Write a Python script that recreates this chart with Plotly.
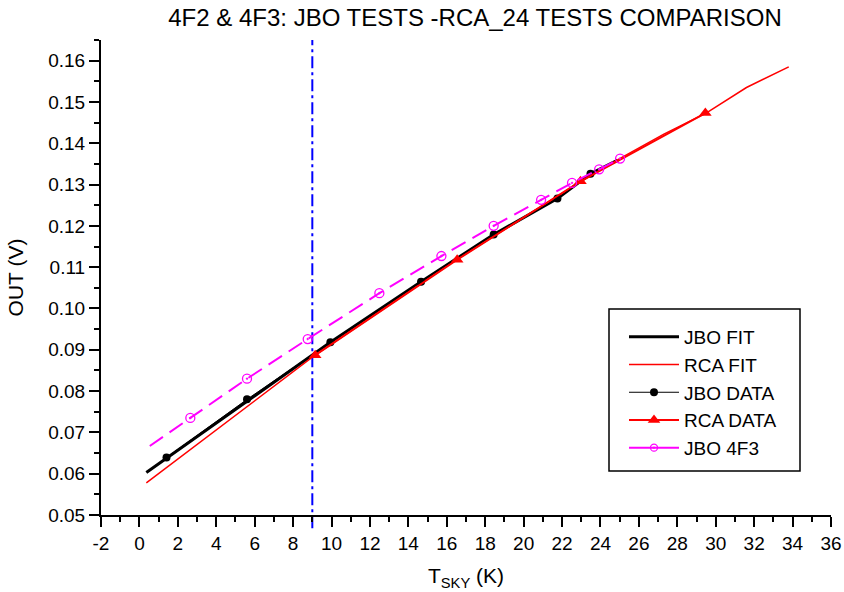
import plotly.graph_objects as go

# ---- data ----
jbo_fit_x = [0.36, 9.94, 14.66, 18.44, 21.76, 23.48, 24.9]
jbo_fit_y = [0.0603, 0.0918, 0.1065, 0.1179, 0.1266, 0.1326, 0.1359]

rca_fit_x = [0.36, 9.0, 16.5, 23.0, 25.0, 27.3, 29.5, 31.6, 33.8]
rca_fit_y = [0.0578, 0.0882, 0.1118, 0.1308, 0.1363, 0.1422, 0.1473, 0.1535, 0.1585]

jbo_data_x = [1.41, 5.6, 9.94, 14.66, 18.44, 21.76, 23.48]
jbo_data_y = [0.0639, 0.0780, 0.0918, 0.1065, 0.1179, 0.1266, 0.1326]

rca_data_x = [9.15, 16.54, 22.96, 29.46]
rca_data_y = [0.0887, 0.1118, 0.1308, 0.1473]

jbo4f3_x = [2.65, 5.6, 8.76, 12.49, 15.72, 18.44, 20.91, 22.52, 23.93, 25.02]
jbo4f3_y = [0.0735, 0.0830, 0.0926, 0.1037, 0.1127, 0.1200, 0.1263, 0.1304, 0.1337, 0.1363]
jbo4f3_line_start_x = [0.54]
jbo4f3_line_start_y = [0.0667]

vline_x = 9.0

x_range = [-2, 36]
y_range = [0.05, 0.165]
x_ticks = list(range(-2, 37, 2))
y_ticks = [0.05, 0.06, 0.07, 0.08, 0.09, 0.10, 0.11, 0.12, 0.13, 0.14, 0.15, 0.16]
y_ticklabels = ["%.2f" % v for v in y_ticks]

FONT = "Liberation Sans, Arial, sans-serif"

# plot area in pixels (figure coords)
L, R, T, B = 101, 831, 40, 515
W, H = 844, 592
PW, PH = R - L, B - T

def px_x(p):
    return (p - L) / PW

def px_y(p):
    return (B - p) / PH

fig = go.Figure()

fig.add_trace(go.Scatter(x=jbo_fit_x, y=jbo_fit_y, mode="lines", name="JBO FIT",
                         line=dict(color="black", width=3)))
fig.add_trace(go.Scatter(x=rca_fit_x, y=rca_fit_y, mode="lines", name="RCA FIT",
                         line=dict(color="#FF0000", width=1.5)))
fig.add_trace(go.Scatter(x=jbo_data_x, y=jbo_data_y, mode="lines+markers", name="JBO DATA",
                         line=dict(color="black", width=1),
                         marker=dict(symbol="circle", size=8, color="black")))
fig.add_trace(go.Scatter(x=rca_data_x, y=rca_data_y, mode="lines+markers", name="RCA DATA",
                         line=dict(color="#FF0000", width=2),
                         marker=dict(symbol="triangle-up", size=11, color="#FF0000")))
# JBO 4F3 dashed line and markers (plot), plus solid legend entry
fig.add_trace(go.Scatter(x=jbo4f3_line_start_x + jbo4f3_x, y=jbo4f3_line_start_y + jbo4f3_y,
                         mode="lines", showlegend=False, hoverinfo="skip",
                         line=dict(color="#FF00FF", width=2, dash="16px,8px")))
fig.add_trace(go.Scatter(x=jbo4f3_x, y=jbo4f3_y, mode="markers", showlegend=False,
                         marker=dict(symbol="circle-open-dot", size=9, color="#FF00FF",
                                     line=dict(width=1.3, color="#FF00FF"))))
fig.add_trace(go.Scatter(x=[None], y=[None], mode="lines+markers", name="JBO 4F3",
                         line=dict(color="#FF00FF", width=2),
                         marker=dict(symbol="circle-open-dot", size=7, color="#FF00FF",
                                     line=dict(width=1.3, color="#FF00FF"))))

# vertical reference line
fig.add_shape(type="line", xref="x", yref="y domain", x0=vline_x, x1=vline_x, y0=-0.028, y1=1.0,
              line=dict(color="#0000FF", width=2, dash="12px,4px,3px,4px"), layer="below")

# legend box
fig.add_shape(type="rect", xref="paper", yref="paper",
              x0=px_x(609), x1=px_x(800), y0=px_y(471), y1=px_y(309),
              line=dict(color="black", width=1.5), fillcolor="white", layer="below")

axis_common = dict(showgrid=False, zeroline=False, showline=True, linecolor="black", linewidth=2,
                   ticks="outside", ticklen=10, tickwidth=2, tickcolor="black", mirror=False,
                   automargin=False,
                   tickfont=dict(family=FONT, size=19, color="black"))

fig.update_xaxes(range=x_range, tickvals=x_ticks, ticktext=[str(v) for v in x_ticks],
                 minor=dict(dtick=1, tick0=0, ticks="outside", ticklen=5, tickwidth=2, tickcolor="black"),
                 title=dict(text="T<sub>SKY</sub> (K)", font=dict(family=FONT, size=21, color="black"),
                            standoff=16),
                 **axis_common)
fig.update_yaxes(range=y_range, tickvals=y_ticks, ticktext=y_ticklabels,
                 minor=dict(dtick=0.005, tick0=0.05, ticks="outside", ticklen=5, tickwidth=2, tickcolor="black"),
                 title=dict(text="OUT (V)", font=dict(family=FONT, size=21, color="black"), standoff=19),
                 **axis_common)

fig.update_layout(
    width=W, height=H,
    margin=dict(l=L, r=W - R, t=T, b=H - B, autoexpand=False),
    paper_bgcolor="white", plot_bgcolor="white",
    title=dict(text="4F2 & 4F3: JBO TESTS -RCA_24 TESTS COMPARISON",
               font=dict(family=FONT, size=24, color="black"),
               x=475 / W, xanchor="center", y=1 - 18 / H, yanchor="middle"),
    legend=dict(x=px_x(624), y=px_y(318), xanchor="left", yanchor="top",
                bgcolor="rgba(0,0,0,0)", borderwidth=0,
                font=dict(family=FONT, size=19, color="black"),
                traceorder="normal", itemwidth=50),
    showlegend=True,
)

fig.write_html("out.html", config={"displayModeBar": False},
               post_script="document.body.style.margin='0';document.body.style.padding='0';")
